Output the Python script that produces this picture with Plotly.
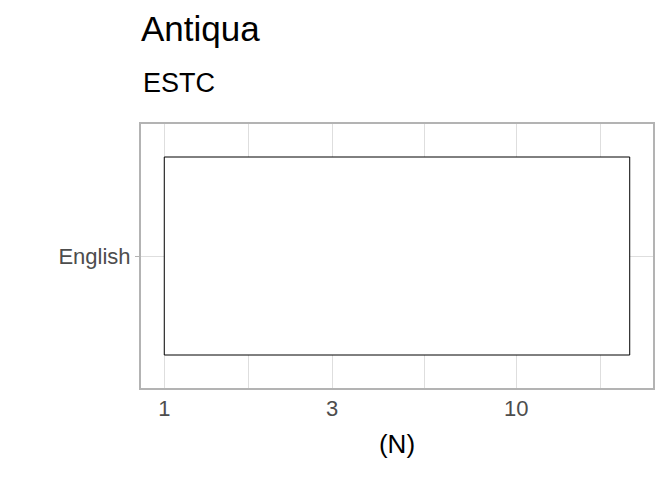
import plotly.graph_objects as go
import math

categories = ["English"]
values = [21]
bar_base = 1
x_tick_vals = [1, 3, 10]
x_tick_text = ["1", "3", "10"]
x_minor_vals = [math.sqrt(3), math.sqrt(30), math.sqrt(300)]
title_text = "Antiqua"
subtitle_text = "ESTC"
x_title = "(N)"

FONT = "Liberation Sans Narrow, Arial Narrow, Liberation Sans, sans-serif"

# ggplot-style 5% expansion on the log scale
lo = math.log10(bar_base)
hi = math.log10(max(values))
pad = (hi - lo) * 0.05

fig = go.Figure()
fig.add_trace(go.Bar(
    y=categories,
    x=[v - bar_base for v in values],
    base=[bar_base] * len(values),
    orientation="h",
    width=0.9,
    marker=dict(color="white", line=dict(color="black", width=1)),
    showlegend=False,
))

fig.update_layout(
    width=672, height=480,
    margin=dict(l=141, r=19, t=124, b=92),
    paper_bgcolor="white", plot_bgcolor="white",
    font=dict(family=FONT, color="#4D4D4D"),
    title=dict(text=title_text, x=141/672, xanchor="left", xref="container",
               y=1 - 16/480, yanchor="top", yref="container",
               font=dict(size=35, color="black", family=FONT)),
    annotations=[dict(text=subtitle_text, xref="paper", yref="paper", x=0, y=1 + 24/264,
                      xanchor="left", yanchor="bottom", showarrow=False,
                      font=dict(size=27, color="black", family=FONT))],
    xaxis=dict(type="log", range=[lo - pad, hi + pad],
               tickvals=x_tick_vals, ticktext=x_tick_text,
               tickfont=dict(size=22, color="#4D4D4D"),
               showgrid=True, gridcolor="#DEDEDE", gridwidth=1,
               minor=dict(tickvals=x_minor_vals, showgrid=True, gridcolor="#DEDEDE", gridwidth=1, ticks=""),
               ticks="", zeroline=False,
               showline=True, linecolor="#B3B3B3", linewidth=2, mirror=True,
               title=dict(text=x_title, font=dict(size=26, color="black"), standoff=14)),
    yaxis=dict(range=[-0.6, 0.6], tickfont=dict(size=22, color="#4D4D4D"),
               showgrid=True, gridcolor="#DEDEDE", gridwidth=1,
               ticks="outside", ticklen=4, tickcolor="#B3B3B3", tickwidth=1,
               showline=True, linecolor="#B3B3B3", linewidth=2, mirror=True,
               zeroline=False),
)

fig.write_html("out.html")
